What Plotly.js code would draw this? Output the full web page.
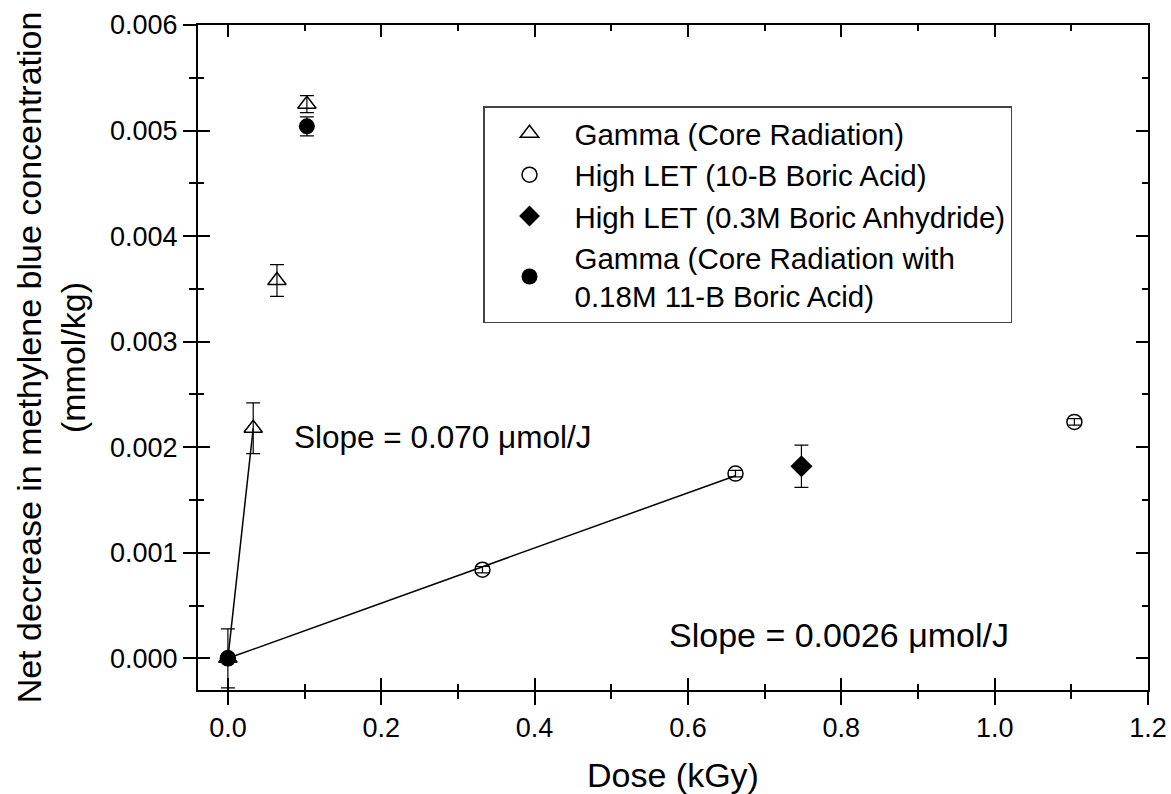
<!DOCTYPE html>
<html>
<head>
<meta charset="utf-8">
<script src="https://cdn.plot.ly/plotly-3.0.1.min.js"></script>
<style>html,body{margin:0;padding:0;background:#fff;}#chart{width:1171px;height:794px;}</style>
</head>
<body>
<div id="chart"></div>
<script>
// Gamma (Core Radiation) - open triangles
const gammaX = [0, 0.033, 0.064, 0.103];
const gammaY = [0, 0.00218, 0.00358, 0.00525];
const gammaErr = [0.00028, 0.00024, 0.00015, 0.00008];

// High LET (10-B Boric Acid) - open circles
const letX = [0, 0.332, 0.662, 1.104];
const letY = [0, 0.00084, 0.00175, 0.00224];
const letErr = [0.00002, 0.00003, 0.00003, 0.00003];

// High LET (0.3M Boric Anhydride) - filled diamond
const anhX = [0.748];
const anhY = [0.00182];
const anhErr = [0.0002];

// Gamma (Core Radiation with 0.18M 11-B Boric Acid) - filled circles
const gbX = [0, 0.103];
const gbY = [0, 0.00504];
const gbErr = [0.00002, 0.00009];

// Linear fits
const fitGammaX = [0, 0.033];
const fitGammaY = [0, 0.00218];
const fitLetX = [0, 0.662];
const fitLetY = [0, 0.00173];

const names = [
  'Gamma (Core Radiation)',
  'High LET (10-B Boric Acid)',
  'High LET (0.3M Boric Anhydride)',
  'Gamma (Core Radiation with<br>0.18M 11-B Boric Acid)'
];
const slopeLabels = ['Slope = 0.070 \u03bcmol/J', 'Slope = 0.0026 \u03bcmol/J'];
const slopePos = [[0.083, 0.0021], [0.573, 0.00022]];
const slopeSizes = [31.5, 34];

const FONT = 'Arial, "Liberation Sans", sans-serif';
function err(arr){ return {type:'data', array: arr, visible:true, color:'#000', thickness:1.2, width:7}; }

const traces = [
  {x: fitGammaX, y: fitGammaY, mode:'lines', line:{color:'#000', width:1.5}, showlegend:false, hoverinfo:'skip'},
  {x: fitLetX, y: fitLetY, mode:'lines', line:{color:'#000', width:1.5}, showlegend:false, hoverinfo:'skip'},
  {x: gammaX, y: gammaY, error_y: err(gammaErr), mode:'markers', name: names[0],
   marker:{symbol:'triangle-up-open', size:16, color:'#000', line:{width:1.5, color:'#000'}}},
  {x: letX, y: letY, error_y: err(letErr), mode:'markers', name: names[1],
   marker:{symbol:'circle-open', size:15, color:'#000', line:{width:1.5, color:'#000'}}},
  {x: anhX, y: anhY, error_y: err(anhErr), mode:'markers', name: names[2],
   marker:{symbol:'diamond', size:17, color:'#000'}},
  {x: gbX, y: gbY, error_y: err(gbErr), mode:'markers', name: names[3],
   marker:{symbol:'circle', size:16, color:'#000'}},
  {x:[null], y:[null], xaxis:'x2', yaxis:'y2', showlegend:false, hoverinfo:'skip', mode:'markers'}
];

const xr = [-0.039, 1.2], yr = [-0.0003, 0.006];
const axCommon = {showgrid:false, zeroline:false, showline:true, linecolor:'#000', linewidth:2,
  tickcolor:'#000', tickwidth:2, ticklen:13, ticks:'outside'};

const layout = {
  width:1171, height:794,
  margin:{l:198, r:23, t:25, b:104},
  paper_bgcolor:'#fff', plot_bgcolor:'#fff',
  font:{family:FONT, color:'#000', size:26},
  showlegend:true,
  legend:{x:0.3, y:0.878, xanchor:'left', yanchor:'top', bgcolor:'#fff',
    bordercolor:'#444', borderwidth:1.5, font:{size:29.5, family:FONT}, itemwidth:80},
  xaxis: Object.assign({}, axCommon, {range:xr, dtick:0.2, tick0:0, tickformat:'.1f',
    minor:{dtick:0.1, tick0:0, ticks:'outside', ticklen:7, tickwidth:2, tickcolor:'#000'},
    tickfont:{size:27, family:FONT},
    title:{text:'Dose (kGy)', font:{size:34, family:FONT}, standoff:22}}),
  yaxis: Object.assign({}, axCommon, {range:yr, dtick:0.001, tick0:0, tickformat:'.3f',
    minor:{dtick:0.0005, tick0:0, ticks:'outside', ticklen:7, tickwidth:2, tickcolor:'#000'},
    tickfont:{size:27, family:FONT},
    title:{text:'Net decrease in methylene blue concentration<br>(mmol/kg)', font:{size:34, family:FONT}, standoff:14}}),
  xaxis2: Object.assign({}, axCommon, {range:xr, dtick:0.2, tick0:0, overlaying:'x', anchor:'y2', side:'bottom',
    ticks:'inside', ticklen:12, mirror:'allticks', showticklabels:false,
    minor:{dtick:0.1, tick0:0, ticks:'inside', ticklen:6, tickwidth:2, tickcolor:'#000'}}),
  yaxis2: Object.assign({}, axCommon, {range:yr, dtick:0.001, tick0:0, overlaying:'y', anchor:'x2', side:'left',
    ticks:'inside', ticklen:12, mirror:'allticks', showticklabels:false,
    minor:{dtick:0.0005, tick0:0, ticks:'inside', ticklen:6, tickwidth:2, tickcolor:'#000'}}),
  annotations: slopeLabels.map((t, i) => ({x: slopePos[i][0], y: slopePos[i][1], xref:'x', yref:'y',
    text:t, showarrow:false, xanchor:'left', yanchor:'middle', font:{size:slopeSizes[i], family:FONT, color:'#000'}}))
};

Plotly.newPlot('chart', traces, layout, {displayModeBar:false, staticPlot:true});
</script>
</body>
</html>
